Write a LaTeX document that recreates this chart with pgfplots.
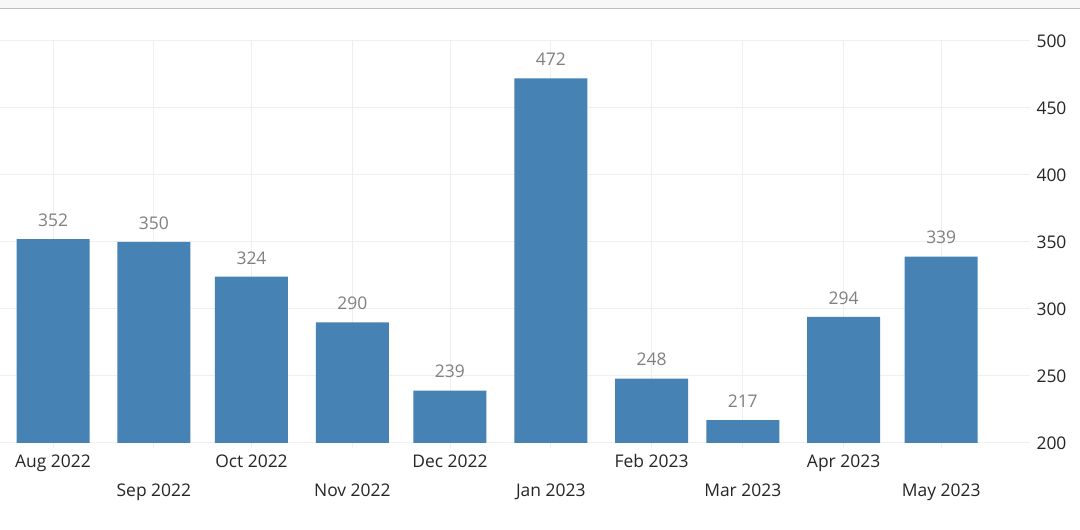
\documentclass[border=0pt]{standalone}
\usepackage{pgfplots}
\pgfplotsset{compat=1.18}
\usepackage{fontspec}
\setmainfont{Open Sans}
\definecolor{barblue}{HTML}{4682B4}
\definecolor{gridc}{HTML}{EFEFEF}
\definecolor{vallab}{HTML}{808080}
\begin{document}
\begin{tikzpicture}[x=1bp,y=1bp]
\useasboundingbox (0,0) rectangle (1080,530);
\fill[white] (0,0) rectangle (1080,530);
\fill[black!3] (0,522) rectangle (1080,530);
\draw[black!25,line width=1bp] (0,521.5) -- (1080,521.5);
\begin{axis}[
  at={(0,65)},anchor=south west,
  width=1030bp,height=402bp,scale only axis,
  xmin=-16.3,xmax=300.3,ymin=200,ymax=500,
  axis line style={draw=none},
  axis y line*=right,
  axis x line*=bottom,
  ybar,bar width=73bp,bar shift=0pt,
  xtick={0,31,61,92,122,153,184,212,243,273},
  xticklabels={Aug 2022,{\raisebox{-29bp}{Sep 2022}},Oct 2022,{\raisebox{-29bp}{Nov 2022}},Dec 2022,{\raisebox{-29bp}{Jan 2023}},Feb 2023,{\raisebox{-29bp}{Mar 2023}},Apr 2023,{\raisebox{-29bp}{May 2023}}},
  ytick={200,250,...,500},
  /pgf/number format/assume math mode=true,
  xtick style={draw=gridc,line width=0.8bp},
  major tick length=5bp,
  ytick style={draw=none},
  grid=major,grid style={gridc,line width=0.8bp},
  tick label style={font=\fontsize{17.5}{20}\selectfont,text=black!85},
  xticklabel style={yshift=-7bp,anchor=north,inner sep=0pt,text height=12bp},
  yticklabel style={xshift=3bp},
  clip=false,
  nodes near coords,
  nodes near coords style={font=\fontsize{17.5}{20}\selectfont,text=vallab,yshift=9bp},
]
\addplot[fill=barblue,draw=none] coordinates {
(0,352) (31,350) (61,324) (92,290) (122,239) (153,472) (184,248) (212,217) (243,294) (273,339)};
\end{axis}
\end{tikzpicture}
\end{document}
